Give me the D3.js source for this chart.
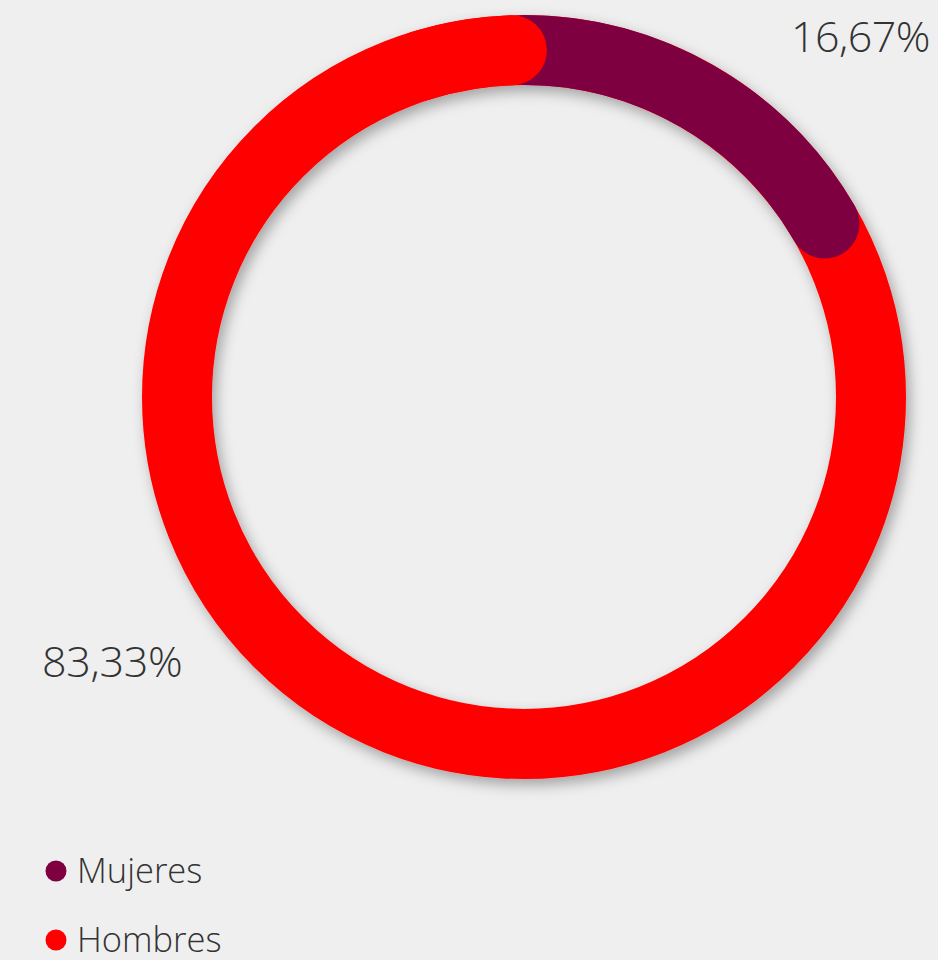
<!DOCTYPE html>
<html>
<head>
<meta charset="utf-8">
<script src="https://cdn.jsdelivr.net/npm/d3@7"></script>
<style>
  html, body { margin: 0; padding: 0; background: #efefef; }
  svg { display: block; font-family: "Open Sans", "Segoe UI", sans-serif; }
</style>
</head>
<body>
<div id="chart"></div>
<script>
'use strict'

// data
const categories = ['Mujeres', 'Hombres']
const values = [16.67, 83.33]
const labels = ['16,67%', '83,33%']
const colors = ['#7f0040', '#ff0000']

const svgWidth = 938
const svgHeight = 960
const cx = 524, cy = 397
const outerR = 382, innerR = 312
const midR = (outerR + innerR) / 2
const thick = outerR - innerR

const svg = d3.select('#chart')
    .append('svg')
    .attr('width', svgWidth)
    .attr('height', svgHeight)

// drop shadow
const defs = svg.append('defs')
const f = defs.append('filter')
    .attr('id', 'shadow')
    .attr('x', '-20%').attr('y', '-20%')
    .attr('width', '140%').attr('height', '140%')
f.append('feDropShadow')
    .attr('dx', 4).attr('dy', 6)
    .attr('stdDeviation', 7)
    .attr('flood-color', '#000')
    .attr('flood-opacity', 0.32)

const pie = d3.pie().sort(null).value(d => d)
const arcs = pie(values)

const g = svg.append('g').attr('transform', `translate(${cx},${cy})`)

// stroke-style arc path on the mid radius
const linePath = (a0, a1) => {
    const p = d3.path()
    p.arc(0, 0, midR, a0 - Math.PI / 2, a1 - Math.PI / 2, false)
    return p.toString()
}

const ring = g.append('g').attr('filter', 'url(#shadow)')

// base ring in hombres colour
ring.append('circle')
    .attr('r', midR)
    .attr('fill', 'none')
    .attr('stroke', colors[1])
    .attr('stroke-width', thick)

// mujeres segment with round caps
ring.append('path')
    .attr('d', linePath(arcs[0].startAngle, arcs[0].endAngle))
    .attr('fill', 'none')
    .attr('stroke', colors[0])
    .attr('stroke-width', thick)
    .attr('stroke-linecap', 'round')

// hombres end cap lies on top of the mujeres start
const endOffset = 2 * Math.PI / 180
ring.append('path')
    .attr('d', linePath(arcs[1].endAngle - 0.3, arcs[1].endAngle - endOffset))
    .attr('fill', 'none')
    .attr('stroke', colors[1])
    .attr('stroke-width', thick)
    .attr('stroke-linecap', 'round')

// value labels
svg.append('text')
    .attr('x', 930).attr('y', 52)
    .attr('text-anchor', 'end')
    .attr('font-size', 43)
    .attr('letter-spacing', -0.5)
    .attr('font-weight', 300)
    .attr('fill', '#333')
    .text(labels[0])

svg.append('text')
    .attr('x', 42).attr('y', 677)
    .attr('font-size', 43)
    .attr('letter-spacing', -0.3)
    .attr('font-weight', 300)
    .attr('fill', '#333')
    .text(labels[1])

// legend
const legend = svg.append('g')
    .selectAll('g')
    .data(categories)
    .join('g')
    .attr('transform', (d, i) => `translate(56,${871 + i * 69})`)

legend.append('circle')
    .attr('r', 10.5)
    .attr('fill', (d, i) => colors[i])

legend.append('text')
    .attr('x', 21)
    .attr('y', 12)
    .attr('font-size', 34.5)
    .attr('font-weight', 300)
    .attr('fill', '#333')
    .text(d => d)
</script>
</body>
</html>
